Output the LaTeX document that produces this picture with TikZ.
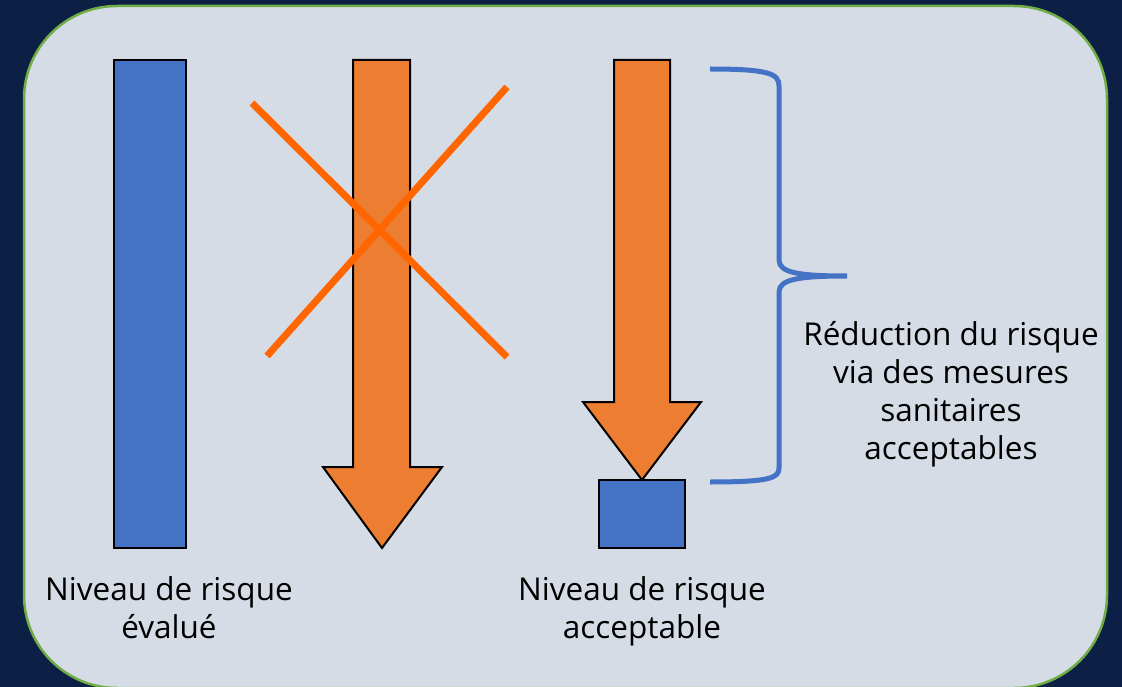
\documentclass[tikz,border=0pt]{standalone}
\usepackage{fontspec}
\setmainfont{Open Sans}
\definecolor{navy}{HTML}{0C1F45}
\definecolor{panel}{HTML}{D6DCE5}
\definecolor{panelborder}{HTML}{70AD47}
\definecolor{barblue}{HTML}{4472C4}
\definecolor{arroworange}{HTML}{ED7D31}
\definecolor{crossorange}{HTML}{FF6600}
\tikzset{
  shapeout/.style={draw=black, line width=2pt, line join=miter},
  crossline/.style={draw=crossorange, line width=7pt},
  bracestyle/.style={draw=barblue, line width=5pt},
  lbl/.style={font=\fontsize{31.5}{38}\selectfont, align=center, inner sep=0pt, anchor=base, text=black},
}
\begin{document}
\begin{tikzpicture}[x=1pt, y=-1pt]
\useasboundingbox (0,0) rectangle (1122,687);
\fill[navy] (0,0) rectangle (1122,687);
\draw[fill=panel, draw=panelborder, line width=2.5pt, rounded corners=93pt] (24,6) rectangle (1107,688);
% blue bar
\path[shapeout, fill=barblue] (114,60) rectangle (186,548);
% crossed arrow
\path[shapeout, fill=arroworange] (353,60) -- (410,60) -- (410,467) -- (442,467) -- (382,548) -- (323,467) -- (353,467) -- cycle;
\path[crossline] (252,103) -- (507,357);
\path[crossline] (507,87) -- (267,356);
% right arrow
\path[shapeout, fill=arroworange] (614,60) -- (670,60) -- (670,402) -- (701,402) -- (642,480) -- (583,402) -- (614,402) -- cycle;
\path[shapeout, fill=barblue] (599,480) rectangle (685,548);
% brace
\path[bracestyle] (710,69) .. controls (770,69) and (779,74) .. (779,86) -- (779,260) .. controls (779,273) and (800,276) .. (847,276) .. controls (800,276) and (779,279) .. (779,292) -- (779,468) .. controls (779,478) and (770,482) .. (710,482);
% labels (anchor = baseline of last line)
\node[lbl] (reduc) at (951,459) {Réduction du risque\\via des mesures\\sanitaires\\acceptables};
\node[lbl] (evalue) at (169,638) {Niveau de risque\\évalué};
\node[lbl] (accept) at (642,638) {Niveau de risque\\acceptable};
\end{tikzpicture}
\end{document}
